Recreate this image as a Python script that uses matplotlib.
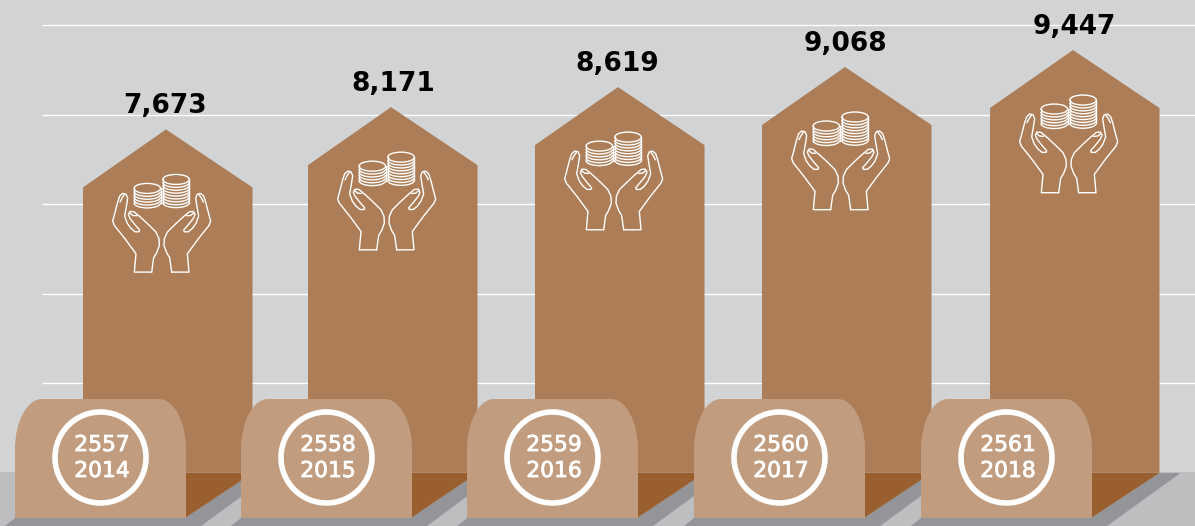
import numpy as np
import matplotlib.pyplot as plt
import matplotlib.patheffects as pe
from matplotlib.patches import Polygon, Circle, Ellipse, Arc, PathPatch, Rectangle
from matplotlib.path import Path

years_be = ["2557", "2558", "2559", "2560", "2561"]
years_ad = ["2014", "2015", "2016", "2017", "2018"]
values = [7673, 8171, 8619, 9068, 9447]
grid_values = [2000, 4000, 6000, 8000, 10000]

W, H = 1195, 526
BASE_PX = 472.8          # pixel row of value 0
PX_PER_UNIT = 0.04475
BAR_LEFT = [83, 308, 535, 762, 990]
BADGE_LEFT = [15, 241, 467, 694, 921]
LABEL_X = [165.5, 393, 617, 845, 1074.5]
BAR_W = 169.5
BADGE_W = 171

BG = "#d1d3d4"
FLOOR = "#bcbec0"
SHADOW = "#939598"
BAR = "#ac7d56"
DARK = "#9a5f2e"
BADGE = "#c19c7e"

fig = plt.figure(figsize=(W / 100, H / 100), dpi=100, facecolor=BG)

# pixel axes behind, value axes for the bars, pixel axes in front
back = fig.add_axes([0, 0, 1, 1], zorder=1)
main = fig.add_axes([0, 0, 1, 1], zorder=2)
front = fig.add_axes([0, 0, 1, 1], zorder=3)
for a in (back, front):
    a.set_xlim(0, W)
    a.set_ylim(H, 0)
    a.axis("off")
main.set_xlim(0, W)
main.set_ylim(-(H - BASE_PX) / PX_PER_UNIT, BASE_PX / PX_PER_UNIT)
main.axis("off")

back.add_patch(Rectangle((0, 472), W, H - 472, fc=FLOOR, ec="none"))

for g in grid_values:
    main.plot([42, W], [g, g], color="white", lw=1.0, solid_capstyle="butt", zorder=1)

# arrow shaped columns, shoulder sits a fixed distance below the apex
shoulder = 58 / PX_PER_UNIT
for left, v in zip(BAR_LEFT, values):
    pts = [(left, 0), (left, v - shoulder), (left + 83, v),
           (left + BAR_W, v - shoulder), (left + BAR_W, 0)]
    main.add_patch(Polygon(pts, closed=True, fc=BAR, ec="none", zorder=2))


# hand outline in zoomed picture units, traced from one icon
hand_outer = [(215, 458), (163, 458), (168, 403), (135, 358), (103, 318), (98, 305),
              (104, 283), (113, 248), (119, 230), (128, 222), (138, 224), (143, 236),
              (139, 262), (134, 290), (142, 312), (153, 327), (165, 337), (177, 337),
              (179, 332), (165, 316), (150, 297), (145, 285), (150, 276), (162, 277),
              (180, 292), (205, 315), (228, 338), (237, 358), (238, 378), (230, 400),
              (221, 415), (215, 458)]
hand_nail = [(120, 248), (126, 236), (133, 226)]
hand_thumb = [(148, 280), (158, 288), (170, 289)]


def icon_xy(pts, mirror=False):
    arr = np.array(pts, dtype=float)
    if mirror:
        arr[:, 0] = 490 - arr[:, 0]
    return (arr[:, 0] - 258) / 3, (arr[:, 1] - 30) / 3


def draw_coins(cx, top, n, step):
    # stack of coins seen from above
    w, h = 26.5, 10.0
    lw = 1.0
    front.add_patch(Ellipse((cx, top), w, h, fc="none", ec="white", lw=lw))
    for i in range(n):
        front.add_patch(Arc((cx, top + step * (i + 1)), w, h, theta1=0, theta2=180,
                            ec="white", lw=lw))
    y0 = top + step * n
    front.plot([cx - w / 2, cx - w / 2], [top, y0], color="white", lw=lw)
    front.plot([cx + w / 2, cx + w / 2], [top, y0], color="white", lw=lw)


def draw_icon(apex_x, apex_y):
    for mirror in (False, True):
        for pts in (hand_outer, hand_nail, hand_thumb):
            x, y = icon_xy(pts, mirror)
            front.plot(apex_x + x, apex_y + y, color="white", lw=1.0,
                       solid_joinstyle="round", solid_capstyle="round", zorder=3)
    draw_coins(apex_x - 18.7, apex_y + 59, 5, 2.9)
    draw_coins(apex_x + 10, apex_y + 50, 8, 2.9)


for left, lx, v in zip(BAR_LEFT, LABEL_X, values):
    apex_x = left + 83
    apex_y = BASE_PX - v * PX_PER_UNIT
    draw_icon(apex_x, apex_y)
    main.annotate(f"{v:,}", (lx, v), xytext=(0, 7.5), textcoords="offset points",
                  ha="center", va="bottom", fontsize=19, fontweight="bold",
                  color="black", family="DejaVu Sans", zorder=5)

# shadow strips and dark floor triangles, then the rounded tabs
r_x, r_y = 27, 50
for left, bar_left in zip(BADGE_LEFT, BAR_LEFT):
    right = left + BADGE_W
    bar_right = bar_left + BAR_W
    front.add_patch(Polygon([(left, 518), (right - 1, 518), (bar_right, 473),
                             (bar_right + 21, 473), (right + 15, H), (left - 10, H)],
                            closed=True, fc=SHADOW, ec="none", zorder=1))
    front.add_patch(Polygon([(right - 1, 473), (bar_right, 473), (right - 1, 518)],
                            closed=True, fc=DARK, ec="none", zorder=1.5))

for left, be, ad in zip(BADGE_LEFT, years_be, years_ad):
    right = left + BADGE_W
    verts = [(left, 518), (left, 399 + r_y),
             (left, 399 + r_y * 0.45), (left + r_x * 0.45, 399), (left + r_x, 399),
             (right - r_x, 399),
             (right - r_x * 0.45, 399), (right, 399 + r_y * 0.45), (right, 399 + r_y),
             (right, 518), (left, 518)]
    codes = [Path.MOVETO, Path.LINETO, Path.CURVE4, Path.CURVE4, Path.CURVE4, Path.LINETO,
             Path.CURVE4, Path.CURVE4, Path.CURVE4, Path.LINETO, Path.CLOSEPOLY]
    front.add_patch(PathPatch(Path(verts, codes), fc=BADGE, ec="none", zorder=2))
    cx = left + 85.5
    front.add_patch(Circle((cx, 457.5), 45.5, fc="none", ec="white", lw=4.0, zorder=3))
    for txt, ty in ((be, 445), (ad, 471)):
        t = front.text(cx + 1.5, ty, txt, ha="center", va="center", fontsize=15.7, color="white",
                       zorder=4)
        t.set_path_effects([pe.withStroke(linewidth=0.6, foreground="white")])

fig.savefig("out.png", dpi=100, facecolor=BG)
